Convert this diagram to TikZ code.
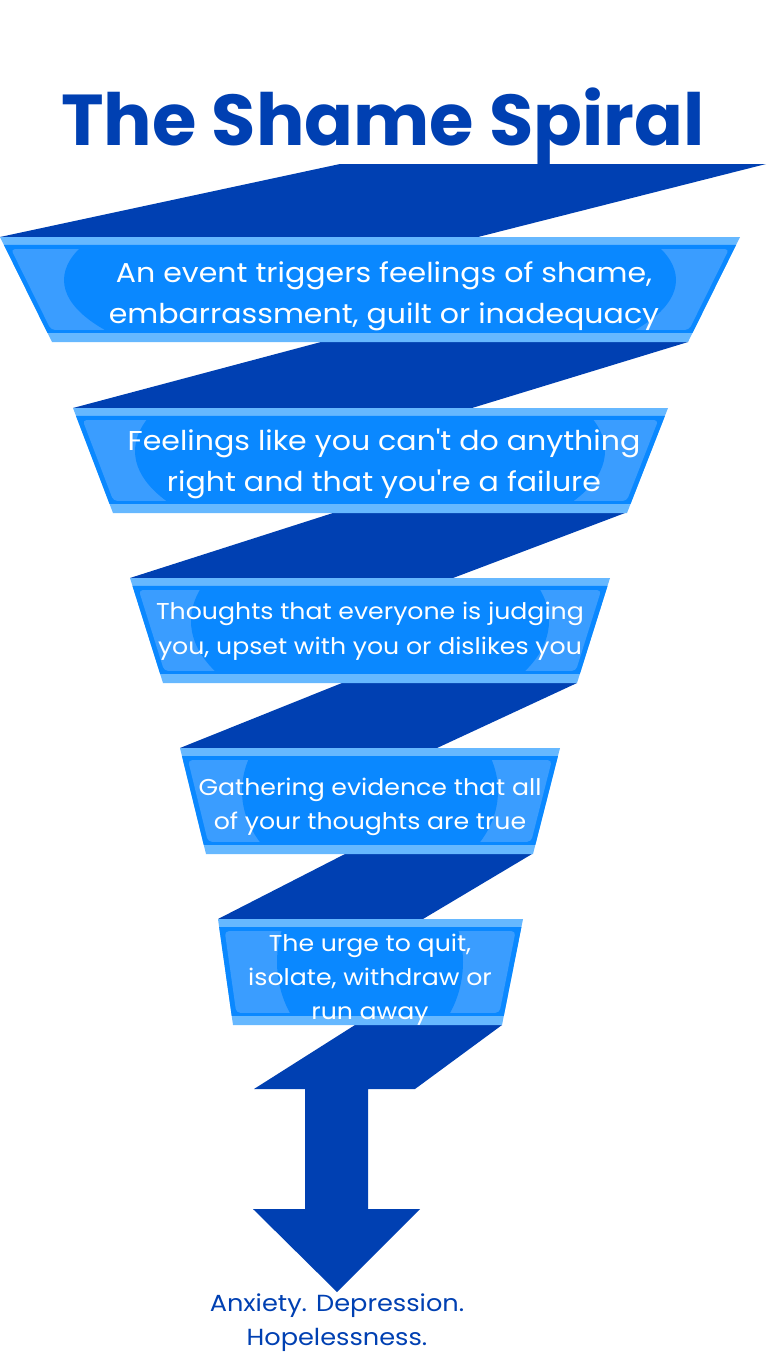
\documentclass[tikz,border=0pt]{standalone}
\usepackage{fontspec}
\setmainfont{Poppins}[FakeStretch=1.1]
\newfontfamily\titlefont{Poppins}
\usetikzlibrary{calc}
\definecolor{darkband}{RGB}{0,64,178}
\definecolor{boxmain}{RGB}{10,136,255}
\definecolor{boxlight}{RGB}{102,184,255}
\definecolor{boxinner}{RGB}{58,157,255}
\tikzset{band/.style={fill=darkband},
  boxtext/.style={text=white, align=center, inner sep=0pt}}
\newcommand\shamebox[7]{%
  \coordinate (TL) at (#1,#5); \coordinate (TR) at (#2,#5);
  \coordinate (BR) at (#3,#6); \coordinate (BL) at (#4,#6);
  \fill[boxlight] (TL)--(TR)--(BR)--(BL)--cycle;
  \fill[boxmain] ($(TL)!0.076!(BL)$) -- ($(TR)!0.076!(BR)$) -- ($(TR)!0.914!(BR)$) -- ($(TL)!0.914!(BL)$) -- cycle;
  \begin{scope}
    \path[clip, rounded corners=4pt] ($(TL)!0.115!(BL)+(5,0)$) -- ($(TR)!0.115!(BR)+(-5,0)$) -- ($(TR)!0.885!(BR)+(-5,0)$) -- ($(TL)!0.885!(BL)+(5,0)$) -- cycle;
    \fill[boxinner] (0,#5) rectangle (768,#6);
    \fill[boxmain] (370,#5+43) ellipse [x radius=#7pt, y radius=100pt];
  \end{scope}}
\begin{document}
\begin{tikzpicture}[x=1pt,y=-1pt]
\useasboundingbox[fill=white] (0,0) rectangle (768,1365);
% bands
\fill[band] (340,164) -- (766,164) -- (478,237) -- (0,237) -- cycle;
\fill[band] (321,342) -- (688,342) -- (472,408) -- (73,408) -- cycle;
\fill[band] (333,513) -- (625,513) -- (453,578) -- (130,578) -- cycle;
\fill[band] (342,683) -- (577,683) -- (437,748) -- (180,748) -- cycle;
\fill[band] (345,854) -- (532,854) -- (423,919) -- (218,919) -- cycle;
\fill[band] (355,1025) -- (502,1025) -- (415,1089) -- (368,1089) -- (368,1209) -- (420,1209) -- (337,1292) -- (253,1209) -- (305,1209) -- (305,1089) -- (254,1089) -- cycle;
% boxes
\shamebox{0}{740}{688}{52}{237}{342}{306}
\shamebox{73}{668}{627}{113}{408}{513}{235}
\shamebox{130}{610}{577}{163}{578}{683}{179}
\shamebox{180}{560}{533}{206}{748}{854}{128}
\shamebox{218}{523}{502}{233}{919}{1025}{93}
% texts
\node[text=darkband, font=\titlefont\fontsize{72}{80}\selectfont\bfseries, anchor=base, inner sep=0pt] (title) at (383,145) {The Shame Spiral};
\node[boxtext, font=\fontsize{27.3}{41}\selectfont] (t1) at (384,296) {An event triggers feelings of shame,\\embarrassment, guilt or inadequacy};
\node[boxtext, font=\fontsize{27.3}{41}\selectfont] (t2) at (384,464) {Feelings like you can\textquotesingle t do anything\\right and that you\textquotesingle re a failure};
\node[boxtext, font=\fontsize{22.9}{35}\selectfont] (t3) at (370,631) {Thoughts that everyone is judging\\you, upset with you or dislikes you};
\node[boxtext, font=\fontsize{22.9}{34}\selectfont] (t4) at (370,807) {Gathering evidence that all\\of your thoughts are true};
\node[boxtext, font=\fontsize{22.9}{34}\selectfont] (t5) at (370,980) {The urge to quit,\\isolate, withdraw or\\run away};
\node[text=darkband, align=center, inner sep=0pt, font=\fontsize{23.3}{34}\selectfont] (t6) at (337,1323) {Anxiety. Depression.\\Hopelessness.};
\end{tikzpicture}
\end{document}
